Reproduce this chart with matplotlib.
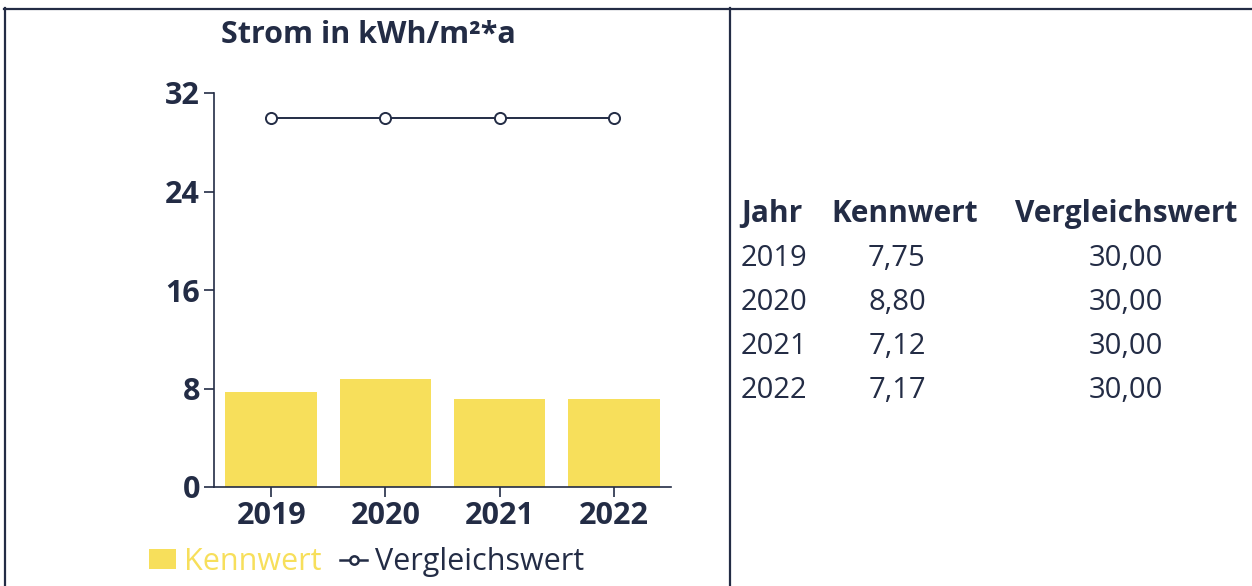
import matplotlib.pyplot as plt
from matplotlib.lines import Line2D
from matplotlib.patches import Patch

# data
jahre = ["2019", "2020", "2021", "2022"]
kennwert = [7.75, 8.80, 7.12, 7.17]
vergleichswert = [30.00, 30.00, 30.00, 30.00]
y_ticks = [0, 8, 16, 24, 32]

NAVY = "#232c45"
YELLOW = "#f7df5b"
W, H = 1252, 586

plt.rcParams['font.family'] = ['Open Sans', 'DejaVu Sans']

fig = plt.figure(figsize=(W / 100, H / 100), dpi=100)


def fx(px):
    return px / W


def fy(py):
    return 1 - py / H


# frame lines (pixel positions)
for xs, ys in [((4, W), (8.5, 8.5)), ((5, 5), (8, H)), ((730, 730), (8, H))]:
    fig.add_artist(Line2D([fx(x) for x in xs], [fy(y) for y in ys],
                          color=NAVY, lw=1.6))

ax = fig.add_axes([fx(214), fy(487), fx(671) - fx(214), fy(93) - fy(487)])
x = list(range(len(jahre)))
ax.bar(x, kennwert, width=0.8, color=YELLOW, zorder=1)
ax.plot(x, vergleichswert, color=NAVY, lw=1.4, marker='o', markersize=8,
        markerfacecolor='white', markeredgecolor=NAVY, markeredgewidth=1.4, zorder=3)

ax.set_xlim(-0.5, 3.5)
ax.set_ylim(0, 32)
ax.set_xticks(x)
ax.set_xticklabels(jahre)
ax.set_yticks(y_ticks)
for s in ['top', 'right']:
    ax.spines[s].set_visible(False)
for s in ['left', 'bottom']:
    ax.spines[s].set_color(NAVY)
    ax.spines[s].set_linewidth(1.2)
ax.tick_params(axis='both', colors=NAVY, width=1.2, length=7, labelsize=22, pad=3)
for lab in ax.get_xticklabels() + ax.get_yticklabels():
    lab.set_fontweight('bold')
    lab.set_color(NAVY)

fig.text(fx(368), fy(35), "Strom in kWh/m²*a", ha='center', va='center',
         fontsize=22, fontweight='bold', color=NAVY)

# legend
handles = [Patch(facecolor=YELLOW, edgecolor='none'),
           Line2D([], [], color=NAVY, lw=1.8, marker='o', markersize=6,
                  markerfacecolor='white', markeredgecolor=NAVY, markeredgewidth=1.8)]
leg = fig.legend(handles, ["Kennwert", "Vergleichswert"], loc='center left',
                 bbox_to_anchor=(fx(149), fy(562)), ncol=2, frameon=False,
                 fontsize=22, borderpad=0, borderaxespad=0,
                 handlelength=0.88, handleheight=0.62, handletextpad=0.26,
                 columnspacing=0.62)
leg.get_texts()[0].set_color(YELLOW)
leg.get_texts()[1].set_color(NAVY)

# table
row_y = [258, 302, 347, 391]
fs_head = 21.5
fs_row = 21
fig.text(fx(741), fy(214), "Jahr", ha='left', va='center', fontsize=fs_head,
         fontweight='bold', color=NAVY)
fig.text(fx(905), fy(214), "Kennwert", ha='center', va='center', fontsize=fs_head,
         fontweight='bold', color=NAVY)
fig.text(fx(1126), fy(214), "Vergleichswert", ha='center', va='center',
         fontsize=fs_head, fontweight='bold', color=NAVY)
for yy, j, k, v in zip(row_y, jahre, kennwert, vergleichswert):
    fig.text(fx(741), fy(yy), j, ha='left', va='center', fontsize=fs_row, color=NAVY)
    fig.text(fx(897), fy(yy), f"{k:.2f}".replace('.', ','), ha='center',
             va='center', fontsize=fs_row, color=NAVY)
    fig.text(fx(1126), fy(yy), f"{v:.2f}".replace('.', ','), ha='center',
             va='center', fontsize=fs_row, color=NAVY)

fig.savefig("out.png", dpi=100)
